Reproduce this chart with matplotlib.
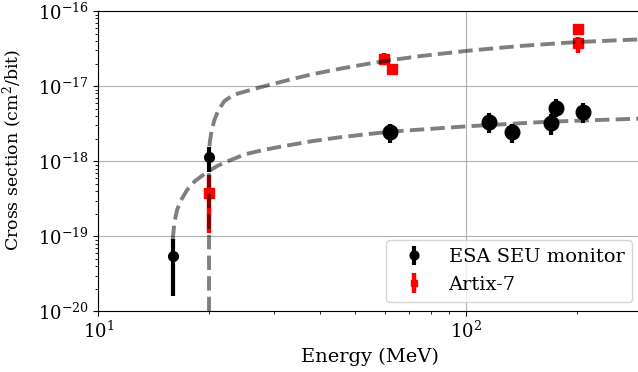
import numpy as np
import matplotlib
matplotlib.use("Agg")
import matplotlib.pyplot as plt

plt.rcParams.update({
    "font.family": "serif", "font.serif": ["DejaVu Serif"],
    "mathtext.fontset": "dejavuserif", "font.size": 13,
})

# ---- data ----
# ESA SEU monitor, high-energy points (large markers)
esa_E   = [62.1, 115, 133, 170, 175, 207]
esa_sig = [2.47e-18, 3.3e-18, 2.47e-18, 3.2e-18, 5.2e-18, 4.56e-18]
esa_lo  = [1.76e-18, 2.4e-18, 1.76e-18, 2.23e-18, 3.9e-18, 3.26e-18]
esa_hi  = [3.1e-18, 4.4e-18, 3.1e-18, 4.3e-18, 6.7e-18, 5.9e-18]
# ESA SEU monitor, low-energy points (small markers)
esa2_E   = [16.0, 20.0]
esa2_sig = [5.4e-20, 1.14e-18]
esa2_lo  = [1.6e-20, 7.2e-19]
esa2_hi  = [9.1e-20, 1.53e-18]
# Artix-7
art_E   = [20.0, 59.8, 63.0, 201, 201]
art_sig = [3.8e-19, 2.28e-17, 1.67e-17, 5.7e-17, 3.8e-17]
art_lo  = [1.1e-19, 1.91e-17, 1.5e-17, 4.9e-17, 2.73e-17]
art_hi  = [6.5e-19, 2.73e-17, 1.85e-17, 6.6e-17, 4.55e-17]
# fitted curves
fitA_E   = [20.0, 20.0, 20.13, 20.35, 20.68, 21.21, 22.02, 22.96, 24.03, 27.82, 32.86,
            38.05, 45.42, 53.13, 62.14, 75.0, 100.4, 140.3, 200.4, 300]
fitA_sig = [1e-21, 1.41e-18, 1.91e-18, 2.6e-18, 3.54e-18, 4.81e-18, 6.34e-18, 7.32e-18, 8.02e-18,
            9.8e-18, 1.21e-17, 1.44e-17, 1.71e-17, 1.96e-17, 2.22e-17, 2.52e-17, 2.96e-17,
            3.44e-17, 3.88e-17, 4.22e-17]
fitE_E   = [15.93, 16.11, 16.37, 16.79, 17.43, 18.32, 19.51, 21.03, 22.81, 25.06, 27.87, 31.2,
            38.05, 45.42, 62.14, 100.4, 165.8, 300]
fitE_sig = [8.93e-20, 1.55e-19, 2.24e-19, 3.04e-19, 4.14e-19, 5.45e-19, 6.86e-19, 8.63e-19,
            1.03e-18, 1.24e-18, 1.4e-18, 1.56e-18, 1.85e-18, 2.09e-18, 2.48e-18, 2.92e-18,
            3.36e-18, 3.71e-18]


def err(y, lo, hi):
    y, lo, hi = map(np.asarray, (y, lo, hi))
    return [y - lo, hi - y]


fig = plt.figure(figsize=(6.38, 3.72), dpi=100)
ax = fig.add_axes([0.154, 0.163, 0.852, 0.807])

ax.errorbar(art_E, art_sig, yerr=err(art_sig, art_lo, art_hi), fmt="s", color="red",
            ms=7, elinewidth=3.2, capsize=0, label="Artix-7", zorder=2)
ax.plot(fitA_E, fitA_sig, "--", color="k", alpha=0.5, lw=2.8, zorder=3)
ax.plot(fitE_E, fitE_sig, "--", color="k", alpha=0.5, lw=2.8, zorder=3)
ax.errorbar(esa2_E, esa2_sig, yerr=err(esa2_sig, esa2_lo, esa2_hi), fmt="o", color="black",
            ms=7, elinewidth=3, capsize=0, zorder=4)
ax.errorbar(esa_E, esa_sig, yerr=err(esa_sig, esa_lo, esa_hi), fmt="o", color="black",
            ms=10.5, elinewidth=3, capsize=0, label="ESA SEU monitor", zorder=4)

ax.set_xscale("log"); ax.set_yscale("log")
ax.set_xlim(10, 300); ax.set_ylim(1e-20, 1e-16)
ax.grid(True, which="major", color="#b0b0b0", lw=0.8)
ax.set_axisbelow(True)
ax.set_xlabel("Energy (MeV)", fontsize=14)
ax.set_ylabel("Cross section (cm$^2$/bit)", fontsize=12.5)
ax.yaxis.set_label_coords(-0.135, 0.537)

handles, labels = ax.get_legend_handles_labels()
order = [labels.index("ESA SEU monitor"), labels.index("Artix-7")]
ax.legend([handles[i] for i in order], [labels[i] for i in order],
          loc="lower right", markerscale=0.6, fontsize=14)

fig.savefig("out.png", dpi=100)
